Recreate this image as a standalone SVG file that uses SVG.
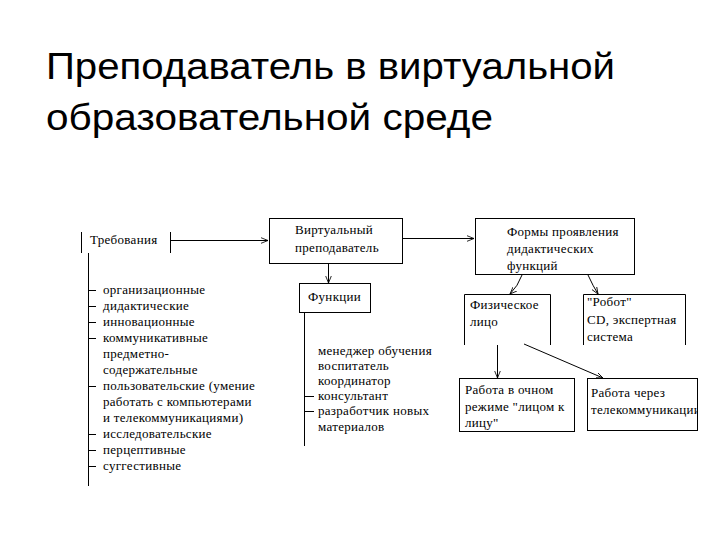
<svg xmlns="http://www.w3.org/2000/svg" width="720" height="540" viewBox="0 0 720 540">
<style>
.title{font-family:"Liberation Sans",Arial,sans-serif;font-size:36px;fill:#000}
.t{font-family:"Liberation Serif","Times New Roman",serif;font-size:13px;letter-spacing:0.3px;fill:#000}
.box{fill:#fff;stroke:#000;stroke-width:1}
.ln{fill:none;stroke:#000;stroke-width:1}
</style>
<defs>
<marker id="ah" viewBox="0 0 10 10" refX="10" refY="5" markerWidth="7" markerHeight="7" orient="auto" markerUnits="userSpaceOnUse">
<path d="M0,1 L10,5 L0,9" fill="none" stroke="#000" stroke-width="1.2"/>
</marker>
<clipPath id="telclip"><rect x="588" y="379" width="109" height="51"/></clipPath>
</defs>
<rect width="720" height="540" fill="#fff"/>
<g id="title">
<text class="title" x="46" y="79" textLength="569" lengthAdjust="spacingAndGlyphs">Преподаватель в виртуальной</text>
<text class="title" x="46" y="130" textLength="447" lengthAdjust="spacingAndGlyphs">образовательной среде</text>
</g>
<g id="connectors">
<path class="ln" d="M170.5,240.5 H268" marker-end="url(#ah)"/>
<path class="ln" d="M403,238.5 H474" marker-end="url(#ah)"/>
<path class="ln" d="M328.5,263 V283" marker-end="url(#ah)"/>
<path class="ln" d="M88.5,253 V486"/>
<path class="ln" d="M88.5,290.5 H96 M88.5,306.5 H96 M88.5,322.5 H96 M88.5,338.5 H96 M88.5,386.5 H96 M88.5,434.5 H96 M88.5,450.5 H96 M88.5,466.5 H96"/>
<path class="ln" d="M304.5,312 V446"/>
<path class="ln" d="M304.5,396.5 H314 M304.5,411.5 H314"/>
<path class="ln" d="M522,275 Q518,286 510,294" marker-end="url(#ah)"/>
<path class="ln" d="M588,275 Q593,286 598,294" marker-end="url(#ah)"/>
<path class="ln" d="M497.5,345 V378" marker-end="url(#ah)"/>
<path class="ln" d="M524,344 L603,378" marker-end="url(#ah)"/>
</g>
<g id="requirements">
<path class="ln" d="M81.5,232 V253 M170.5,232 V253"/>
<text class="t" x="90" y="244">Требования</text>
</g>
<g id="req-list">
<text class="t" x="103" y="294">организационные</text>
<text class="t" x="103" y="310">дидактические</text>
<text class="t" x="103" y="326">инновационные</text>
<text class="t" x="103" y="342">коммуникативные</text>
<text class="t" x="103" y="358">предметно-</text>
<text class="t" x="103" y="374">содержательные</text>
<text class="t" x="103" y="390">пользовательские (умение</text>
<text class="t" x="103" y="406">работать с компьютерами</text>
<text class="t" x="103" y="422">и телекоммуникациями)</text>
<text class="t" x="103" y="438">исследовательские</text>
<text class="t" x="103" y="454">перцептивные</text>
<text class="t" x="103" y="470">суггестивные</text>
</g>
<g id="virtual-teacher">
<rect class="box" x="269.5" y="218.5" width="133" height="45"/>
<text class="t" x="295" y="234">Виртуальный</text>
<text class="t" x="295" y="252">преподаватель</text>
</g>
<g id="functions">
<rect class="box" x="299.5" y="283.5" width="71" height="29"/>
<text class="t" x="308" y="301">Функции</text>
</g>
<g id="func-list">
<text class="t" x="318" y="355">менеджер обучения</text>
<text class="t" x="318" y="370">воспитатель</text>
<text class="t" x="318" y="385">координатор</text>
<text class="t" x="318" y="400">консультант</text>
<text class="t" x="318" y="415">разработчик новых</text>
<text class="t" x="318" y="431">материалов</text>
</g>
<g id="forms">
<rect class="box" x="475.5" y="218.5" width="159" height="56"/>
<text class="t" x="507" y="236">Формы проявления</text>
<text class="t" x="507" y="253">дидактических</text>
<text class="t" x="507" y="270">функций</text>
</g>
<g id="physical">
<path class="ln" d="M464.5,345 V294.5 H550.5 V345"/>
<text class="t" x="470" y="309">Физическое</text>
<text class="t" x="470" y="326">лицо</text>
</g>
<g id="robot">
<path class="ln" d="M583.5,345 V294.5 H685.5 V345"/>
<text class="t" x="587" y="306">"Робот"</text>
<text class="t" x="587" y="324">CD, экспертная</text>
<text class="t" x="587" y="341">система</text>
</g>
<g id="face-to-face">
<rect class="box" x="459.5" y="378.5" width="115" height="53"/>
<text class="t" x="465" y="394">Работа в очном</text>
<text class="t" x="465" y="411">режиме "лицом к</text>
<text class="t" x="465" y="427">лицу"</text>
</g>
<g id="telecom">
<rect class="box" x="587.5" y="378.5" width="110" height="52"/>
<g clip-path="url(#telclip)">
<text class="t" x="591" y="397">Работа через</text>
<text class="t" x="591" y="414">телекоммуникации</text>
</g>
</g>
</svg>
